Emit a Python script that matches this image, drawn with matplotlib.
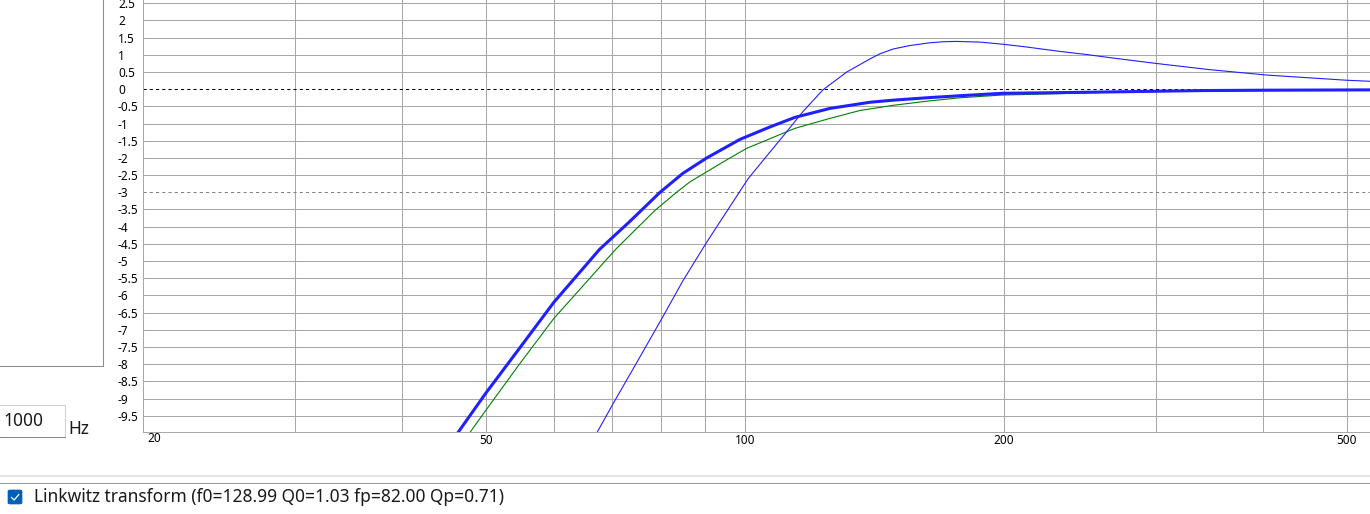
import matplotlib
matplotlib.use("Agg")
import matplotlib.pyplot as plt
from matplotlib.lines import Line2D
from matplotlib.patches import Rectangle, FancyBboxPatch

plt.rcParams['font.family'] = ['Noto Sans', 'DejaVu Sans']

W, H = 1370, 514

# --- data (Hz, dB) ---
# thick blue: target response
target_f = [46.4, 50, 54.8, 60, 67.8, 73.5, 79.7, 84.7, 90.3, 98.7, 106.9, 114.3,
            125.5, 139.7, 148.6, 162.6, 177.7, 199, 232, 265, 300, 340, 400, 532]
target_db = [-10.0, -8.85, -7.52, -6.2, -4.66, -3.85, -3.0, -2.45, -2.0, -1.46, -1.10, -0.82,
             -0.56, -0.38, -0.32, -0.25, -0.19, -0.12, -0.10, -0.08, -0.06, -0.04, -0.03, -0.02]

# thin blue: driver response
driver_f = [67.3, 70.3, 74.9, 80.1, 84.7, 90.3, 98.5, 100.9, 111.3, 116.8, 123.2, 131.3,
            139.7, 143.5, 148.7, 155.4, 164, 169.8, 176, 187.5, 199, 212, 232, 249, 265,
            300, 346, 404, 500, 532]
driver_db = [-10.0, -9.15, -7.95, -6.67, -5.58, -4.45, -3.0, -2.6, -1.3, -0.65, -0.02, 0.5,
             0.88, 1.03, 1.17, 1.27, 1.35, 1.38, 1.39, 1.37, 1.31, 1.23, 1.10, 1.01, 0.92,
             0.75, 0.57, 0.41, 0.26, 0.23]

# green: transformed result
result_f = [47.9, 50, 54.8, 60, 67.7, 70.9, 78.6, 83.3, 86.3, 94.3, 100.5, 114.3, 125.5, 136, 148.6,
            162.6, 177.7, 199, 232, 265, 300, 346, 400, 532]
result_db = [-10.0, -9.35, -7.98, -6.67, -5.2, -4.64, -3.53, -3.0, -2.7, -2.12, -1.72, -1.14, -0.85, -0.62,
             -0.47, -0.35, -0.25, -0.17, -0.13, -0.09, -0.07, -0.05, -0.04, -0.02]

y_ticks = [v * 0.5 for v in range(-19, 6)]          # -9.5 .. 2.5
x_grid = [30, 40, 50, 60, 70, 80, 90, 100, 200, 300, 400, 500]
x_labels = [50, 100, 200, 500]

GRID = '#a8a8a8'


def px(x, y):
    # screen pixel -> figure fraction
    return x / W, 1 - y / H


fig = plt.figure(figsize=(W / 100, H / 100), dpi=100)
ax = fig.add_axes([143 / W, (H - 431.5) / H, (W - 143) / W, 431.5 / H])
ax.set_xscale('log')
ax.set_xlim(20, 532)
ax.set_ylim(-9.96, 2.595)

for v in y_ticks:
    if v in (0, -3):
        continue
    ax.axhline(v, color=GRID, lw=0.75, zorder=1)
for f in x_grid:
    ax.axvline(f, color=GRID, lw=0.75, zorder=1)
ax.axhline(0, color='black', lw=0.75, ls=(0, (3, 3)), zorder=2)
ax.axhline(-3, color='#808080', lw=0.75, ls=(0, (3, 3)), zorder=2)

ax.plot(result_f, result_db, color='#008000', lw=0.8, zorder=3)
ax.plot(target_f, target_db, color='#2020ff', lw=2.2, zorder=4)
ax.plot(driver_f, driver_db, color='#2020ff', lw=0.8, zorder=5)

for s in ['top', 'right']:
    ax.spines[s].set_visible(False)
for s in ['left', 'bottom']:
    ax.spines[s].set_color(GRID)
    ax.spines[s].set_linewidth(0.75)

ax.set_yticks(y_ticks)
ax.set_yticklabels([('%g' % v) for v in y_ticks])
ax.tick_params(axis='y', length=0, pad=18, labelsize=8.5)
for lab in ax.get_yticklabels():
    lab.set_horizontalalignment('left')

ax.set_xticks(x_labels)
ax.set_xticklabels([str(v) for v in x_labels])
ax.xaxis.set_minor_locator(matplotlib.ticker.NullLocator())
ax.tick_params(axis='x', length=0, pad=2, labelsize=8.5)
fig.text(*px(154, 439), '20', ha='center', va='center', fontsize=8.5)

# --- surrounding UI bits ---
fig.add_artist(Line2D([0, 103 / W], [px(0, 366)[1]] * 2, color='#8c8c8c', lw=0.75))
fig.add_artist(Line2D([103 / W] * 2, [px(0, 366)[1], 1], color='#8c8c8c', lw=0.75))

# grip dots
for gx in [107.5, 111.5]:
    for gy in range(65, 93, 3):
        fig.add_artist(Rectangle(px(gx, gy + 1), 1 / W, 1 / H, color='#c4c4c4', lw=0))

# frequency entry box
fig.add_artist(Rectangle(px(-1, 437), 66 / W, 32 / H, fc='white', ec='#cfcfcf', lw=0.75))
fig.add_artist(Line2D([0, 65 / W], [px(0, 437)[1]] * 2, color='#8a8a8a', lw=0.75))
fig.text(*px(3, 421), '1000', ha='left', va='center', fontsize=12.5, color='#1a1a1a')
fig.text(*px(68, 429), 'Hz', ha='left', va='center', fontsize=12.5, color='#1a1a1a')

# separators
fig.add_artist(Line2D([0, 1], [px(0, 476)[1]] * 2, color='#e6e6e6', lw=1.5))
fig.add_artist(Line2D([0, 1], [px(0, 482.5)[1]] * 2, color='#9a9a9a', lw=0.75))

# checkbox + label
fig.add_artist(FancyBboxPatch(px(8, 504), 14 / W, 14 / H, boxstyle='round,pad=0,rounding_size=0.002',
                              fc='#005fb8', ec='#005fb8', lw=0.5))
fig.add_artist(Line2D([11.5 / W, 14.2 / W, 18.8 / W], [px(0, 497.5)[1], px(0, 500)[1], px(0, 494.5)[1]],
                      color='white', lw=0.9))
fig.text(*px(34, 497), 'Linkwitz transform (f0=128.99 Q0=1.03 fp=82.00 Qp=0.71)',
         ha='left', va='center', fontsize=12.5, color='#1a1a1a')

fig.savefig('out.png', dpi=100)
